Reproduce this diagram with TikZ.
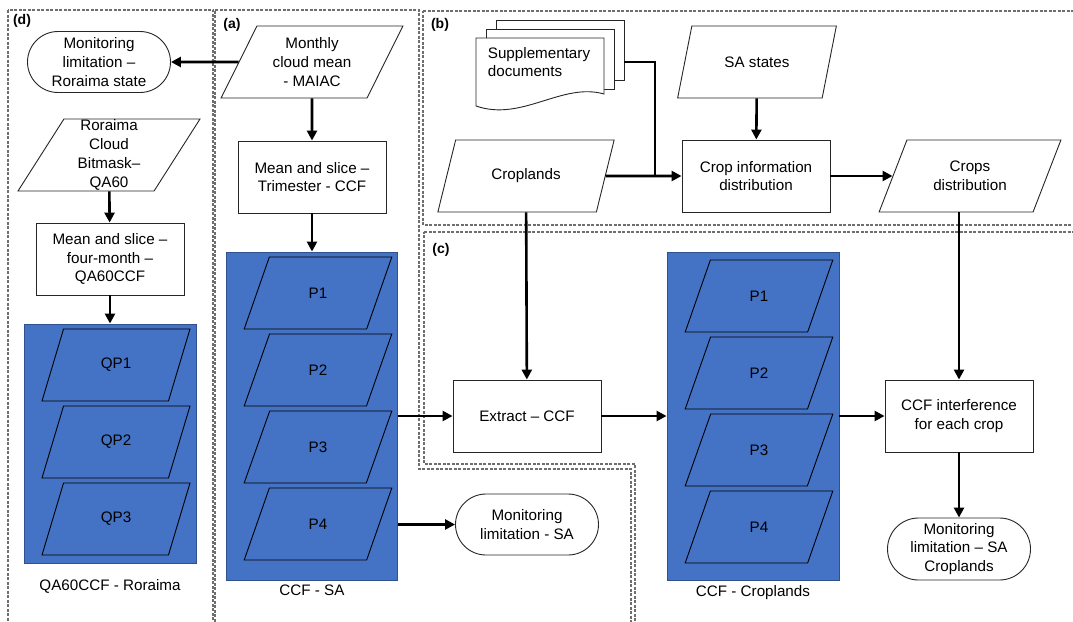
\documentclass[tikz,border=0pt]{standalone}
\usepackage{fontspec}
\setmainfont{Liberation Sans}
\usetikzlibrary{shapes,arrows.meta,positioning,calc}
\definecolor{blueset}{HTML}{4472C4}
\definecolor{blueedge}{HTML}{2F528F}
\definecolor{framegray}{HTML}{6E6E6E}

\begin{document}
\begin{tikzpicture}[x=1pt,y=-1pt,font=\fontsize{15.2}{18.8}\selectfont]
\tikzset{
	proc/.style = {rectangle, draw=black!85, line width=0.9pt, fill=white, minimum width=148, minimum height=72, align=center, inner sep=2},
	io/.style = {trapezium, trapezium left angle=63, trapezium right angle=117, trapezium stretches=true, draw=black!85, line width=0.9pt, fill=white, minimum width=182, minimum height=72, align=center, inner sep=2},
	part/.style = {io, draw=black, trapezium left angle=68, trapezium right angle=112, fill=blueset, minimum width=148},
	term/.style = {rounded rectangle, draw=black!85, line width=0.9pt, fill=white, minimum width=147, minimum height=61, align=center, inner sep=2},
	group/.style = {rectangle, draw=blueedge, fill=blueset, line width=0.9pt},
	page/.style = {rectangle, draw=black!85, line width=0.9pt, fill=white, minimum width=128, minimum height=60},
	zone/.style = {draw=framegray, line width=1.2pt, dash pattern=on 3pt off 1.5pt},
	panel/.style = {font=\fontsize{14}{16}\selectfont\bfseries},
	arr/.style = {-{Triangle[length=10pt,width=10pt]}, line width=2.6pt}
}
\useasboundingbox (0,0) rectangle (1073,621);
\clip (0,0) rectangle (1073,621);
% dashed panels
\draw[zone] (8,10) rectangle (213,640);
\draw[zone] (215,10) -- (419,10) -- (419,469) -- (631,469) -- (631,640) -- (215,640) -- cycle;
\draw[zone] (423,11) -- (1090,11) -- (1090,225) -- (423,225) -- cycle;
\draw[zone] (424,232) -- (1090,232) -- (1090,640) -- (635,640) -- (635,464) -- (424,464) -- cycle;
\node[panel] at (22,21) {(d)};
\node[panel] at (232,25) {(a)};
\node[panel] at (440,25) {(b)};
\node[panel] at (441,250) {(c)};

% (d) Roraima
\node[term] (mlr) at (99,62) {Monitoring\\limitation --\\Roraima state};
\node[io, label={[align=center]center:Roraima\\Cloud\\Bitmask--\\QA60}] (rcb) at (109,155) {};
\node[proc] (qmean) at (110,259) {Mean and slice --\\four-month --\\QA60CCF};
\node[group, minimum width=172, minimum height=239] (ccfrr) at (110,443.5) {};
\foreach \i/\y in {1/365,2/442,3/519}
	\node[part] (qp\i) at (116,\y) {QP\i};
\node[below=12pt of ccfrr] (lblrr) {QA60CCF - Roraima};

% (a) SA
\node[io] (mcm) at (312,62) {Monthly\\cloud mean\\- MAIAC};
\node[proc] (tmean) at (312,177) {Mean and slice --\\Trimester - CCF};
\node[group, minimum width=171, minimum height=328] (ccfsa) at (312,416) {};
\foreach \i/\y in {1/293,2/370,3/447,4/524}
	\node[part] (pa\i) at (318,\y) {P\i};
\node[below=1pt of ccfsa] (lblsa) {CCF - SA};
\node[term] (mlsa) at (527,524.5) {Monitoring\\limitation - SA};

% (b) crops
\node[page] (pg3) at (560,50) {};
\node[page] (pg2) at (550,59) {};
\draw[draw=black!85, line width=0.9pt, fill=white] (476,38) -- (604,38) -- (604,94) .. controls (562,82) and (522,122) .. (476,106) -- cycle;
\node[align=left] (supdoc) at (539,62) {Supplementary\\documents};
\node[io, minimum width=160] (sast) at (757,62) {SA states};
\node[io, minimum width=178] (crops) at (526,176) {Croplands};
\node[proc] (cinfo) at (756,176) {Crop information\\distribution};
\node[io] (cdist) at (970,176) {Crops\\distribution};
\coordinate (join) at (655,176);

% (c) croplands
\node[proc] (extract) at (527,416) {Extract -- CCF};
\node[group, minimum width=172, minimum height=328] (ccfcr) at (753,416) {};
\foreach \i/\y in {1/296,2/373,3/450,4/527}
	\node[part] (pc\i) at (759,\y) {P\i};
\node[below=1pt of ccfcr] (lblcr) {CCF - Croplands};
\node[proc] (ccfi) at (959,416) {CCF interference\\for each crop};
\node[term, minimum height=62] (mlcr) at (959,549) {Monitoring\\limitation -- SA\\Croplands};

% connectors
\draw[arr] (mcm) -- (mlr);
\draw[arr] (mcm) -- (tmean);
\draw[arr] (tmean) -- (ccfsa);
\draw[arr] (rcb) -- (qmean);
\draw[arr] (qmean) -- (ccfrr);
\draw[arr] (ccfsa.east |- extract) -- (extract);
\draw[arr] (ccfsa.east |- mlsa) -- (mlsa);
\draw[arr] (sast) -- (cinfo);
\draw[arr] (crops) -- (cinfo);
\draw[line width=2.6pt] (pg3.east |- supdoc) -| (join);
\draw[arr] (cinfo) -- (cdist);
\draw[arr] (crops) -- (extract);
\draw[arr] (extract) -- (ccfcr);
\draw[arr] (ccfcr) -- (ccfi);
\draw[arr] (ccfi |- cdist.south) -- (ccfi);
\draw[arr] (ccfi) -- (mlcr);
\end{tikzpicture}
\end{document}
